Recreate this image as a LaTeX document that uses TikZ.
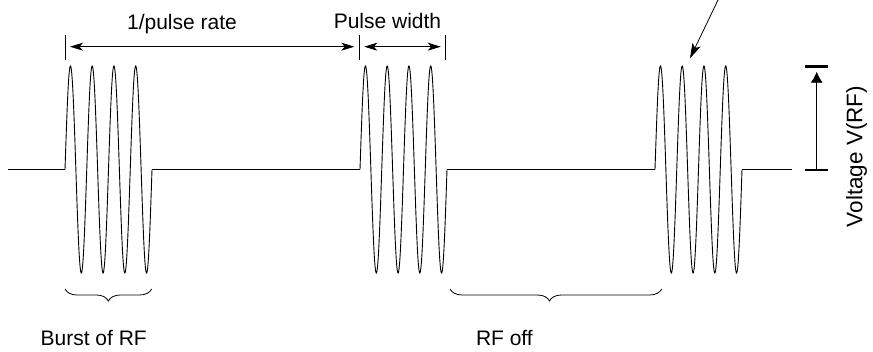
\documentclass[tikz,border=0pt]{standalone}
\usepackage{fontspec}
\setmainfont{Liberation Sans}
\usetikzlibrary{arrows.meta,decorations.pathreplacing}

\begin{document}
\begin{tikzpicture}[x=1pt,y=-1pt,>=Stealth]
  \tikzstyle{wave}=[line width=0.9pt]
  \tikzstyle{tick}=[line width=0.8pt]
  \tikzstyle{dim}=[<->,line width=0.8pt,shorten <=5pt,shorten >=5pt,>={Stealth[length=13pt,width=8pt,inset=3.5pt]}]
  \tikzstyle{bar}=[line width=2.4pt]
  \tikzstyle{brc}=[line width=0.8pt,decorate,decoration={brace,mirror,amplitude=12pt}]
  \tikzstyle{lab}=[inner sep=0pt,font=\fontsize{21}{25}\selectfont]
  \useasboundingbox (0,0) rectangle (873,352);
  % baseline between bursts
  \coordinate (l0) at (8,169.5);
  \coordinate (l1) at (65,169.5);
  \coordinate (l2) at (152,169.5);
  \coordinate (l3) at (360,169.5);
  \coordinate (l4) at (447,169.5);
  \coordinate (l5) at (655,169.5);
  \coordinate (l6) at (742,169.5);
  \coordinate (l7) at (792,169.5);
  \draw[wave] (l0) -- (l1) (l2) -- (l3) (l4) -- (l5) (l6) -- (l7);
  % RF bursts
  \foreach \s in {65,360,655}
    \draw[wave] plot[domain=0:87,samples=241,smooth] ({\s+\x},{169.5-103.5*sin(16.5517*\x)});
  % period and width
  \coordinate (ta) at (65,46.7);
  \coordinate (tb) at (359.3,46.7);
  \coordinate (tc) at (445.7,46.7);
  \foreach \t in {ta,tb,tc}
    \draw[tick] ([yshift=-13.5pt]\t) -- ([yshift=11.5pt]\t);
  \draw[dim] (ta) -- (tb);
  \draw[dim] (tb) -- (tc);
  \node[lab,anchor=base] (rate) at (182,29.5) {1/pulse rate};
  \node[lab,anchor=base] (width) at (387.5,28.5) {Pulse width};
  % pointer to burst
  \coordinate (ptail) at (718,0);
  \coordinate (phead) at (690,58.3);
  \draw[->,line width=0.8pt,>={Stealth[length=15pt,width=9pt,inset=3.5pt]}] (ptail) -- (phead);
  % voltage amplitude
  \coordinate (vtop) at (816.7,66.7);
  \coordinate (vbot) at (816.7,170);
  \draw[bar] ([xshift=-11.7pt]vtop) -- ([xshift=11pt]vtop);
  \draw[bar] ([xshift=-11.7pt]vbot) -- ([xshift=11pt]vbot);
  \draw[->,line width=0.8pt,shorten >=5pt,>={Latex[length=11pt,width=12pt]}] (vbot) -- (vtop);
  \node[lab,rotate=90,font=\fontsize{22.5}{26}\selectfont] (volt) at (856.5,156.5) {Voltage V(RF)};
  % braces
  \coordinate (ba) at (65,289);
  \coordinate (bb) at (151.7,289);
  \coordinate (oa) at (450,289);
  \coordinate (ob) at (661.7,289);
  \draw[brc] (ba) -- (bb);
  \draw[brc,decoration={aspect=0.47}] (oa) -- (ob);
  \node[lab,anchor=base] (burst) at (93.7,346) {Burst of RF};
  \node[lab,anchor=base] (off) at (504.4,346) {RF off};
\end{tikzpicture}
\end{document}
